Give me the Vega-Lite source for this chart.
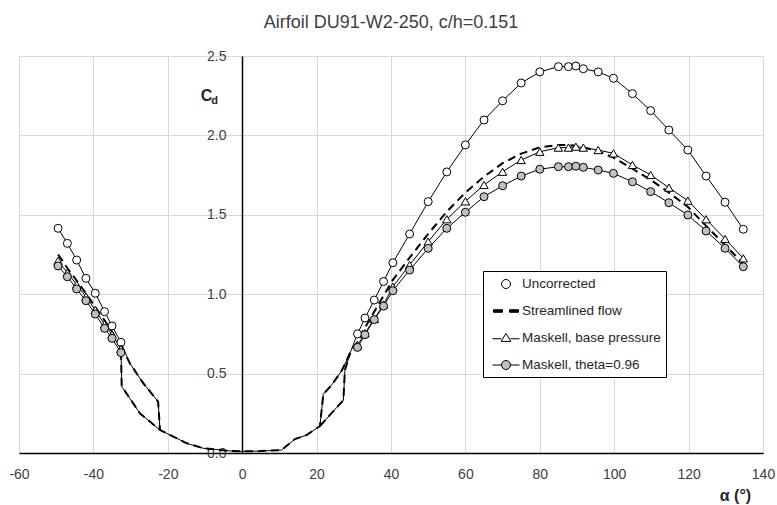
{
  "$schema": "https://vega.github.io/schema/vega-lite/v6.json",
  "width": 744,
  "height": 397,
  "autosize": {"type": "none"},
  "padding": {"left": 19, "top": 56, "right": 14, "bottom": 52},
  "title": {"text": "Airfoil DU91-W2-250, c/h=0.151", "fontSize": 18, "fontWeight": "normal", "font": "Liberation Sans", "color": "#404040", "offset": 17, "anchor": "middle"},
  "config": {
    "view": {"stroke": null},
    "axis": {"labelFont": "Liberation Sans", "titleFont": "Liberation Sans", "labelColor": "#404040", "titleColor": "#262626", "gridColor": "#d9d9d9", "gridWidth": 1}
  },
  "data": {"values": [
    {"s":"U","b":"A","m":1,"a":-49.5,"c":1.415},{"s":"U","b":"A","m":1,"a":-47,"c":1.32},{"s":"U","b":"A","m":1,"a":-44.5,"c":1.215},{"s":"U","b":"A","m":1,"a":-42,"c":1.10},{"s":"U","b":"A","m":1,"a":-39.5,"c":1.006},{"s":"U","b":"A","m":1,"a":-37,"c":0.89},{"s":"U","b":"A","m":1,"a":-35,"c":0.80},{"s":"U","b":"A","m":1,"a":-32.6,"c":0.697},
    {"s":"U","b":"A","m":0,"a":-32.4,"c":0.42},{"s":"U","b":"A","m":0,"a":-27.5,"c":0.25},{"s":"U","b":"A","m":0,"a":-22.1,"c":0.145},{"s":"U","b":"A","m":0,"a":-18.5,"c":0.103},{"s":"U","b":"A","m":0,"a":-14.9,"c":0.061},{"s":"U","b":"A","m":0,"a":-10.5,"c":0.03},{"s":"U","b":"A","m":0,"a":-3.3,"c":0.013},{"s":"U","b":"A","m":0,"a":0,"c":0.01},{"s":"U","b":"A","m":0,"a":5,"c":0.012},{"s":"U","b":"A","m":0,"a":10.6,"c":0.019},{"s":"U","b":"A","m":0,"a":14.2,"c":0.088},{"s":"U","b":"A","m":0,"a":17.3,"c":0.113},{"s":"U","b":"A","m":0,"a":20.9,"c":0.17},{"s":"U","b":"A","m":0,"a":21.8,"c":0.37},{"s":"U","b":"A","m":0,"a":24.1,"c":0.43},{"s":"U","b":"A","m":0,"a":26.8,"c":0.52},{"s":"U","b":"A","m":0,"a":29,"c":0.63},
    {"s":"U","b":"A","m":1,"a":31,"c":0.75},{"s":"U","b":"A","m":1,"a":33,"c":0.85},{"s":"U","b":"A","m":1,"a":35.5,"c":0.963},{"s":"U","b":"A","m":1,"a":38,"c":1.08},{"s":"U","b":"A","m":1,"a":40.5,"c":1.198},{"s":"U","b":"A","m":1,"a":45,"c":1.379},{"s":"U","b":"A","m":1,"a":50,"c":1.583},{"s":"U","b":"A","m":1,"a":55,"c":1.77},{"s":"U","b":"A","m":1,"a":60,"c":1.94},{"s":"U","b":"A","m":1,"a":65,"c":2.097},{"s":"U","b":"A","m":1,"a":70,"c":2.218},{"s":"U","b":"A","m":1,"a":75,"c":2.33},{"s":"U","b":"A","m":1,"a":80,"c":2.40},{"s":"U","b":"A","m":1,"a":85,"c":2.433},{"s":"U","b":"A","m":1,"a":87.7,"c":2.433},{"s":"U","b":"A","m":1,"a":89.7,"c":2.437},{"s":"U","b":"A","m":1,"a":91.7,"c":2.42},{"s":"U","b":"A","m":1,"a":95.7,"c":2.40},{"s":"U","b":"A","m":1,"a":99.8,"c":2.36},{"s":"U","b":"A","m":1,"a":104.9,"c":2.263},{"s":"U","b":"A","m":1,"a":109.8,"c":2.156},{"s":"U","b":"A","m":1,"a":114.7,"c":2.034},{"s":"U","b":"A","m":1,"a":119.8,"c":1.908},{"s":"U","b":"A","m":1,"a":124.7,"c":1.744},{"s":"U","b":"A","m":1,"a":129.8,"c":1.579},{"s":"U","b":"A","m":1,"a":134.7,"c":1.409},
    {"s":"U","b":"L","m":0,"a":-32.6,"c":0.697},{"s":"U","b":"L","m":0,"a":-30.2,"c":0.565},{"s":"U","b":"L","m":0,"a":-26.6,"c":0.44},{"s":"U","b":"L","m":0,"a":-22.6,"c":0.323},{"s":"U","b":"L","m":0,"a":-22.1,"c":0.145},
    {"s":"U","b":"R","m":0,"a":20.9,"c":0.17},{"s":"U","b":"R","m":0,"a":27.2,"c":0.333},{"s":"U","b":"R","m":0,"a":27.6,"c":0.52},{"s":"U","b":"R","m":0,"a":29,"c":0.63},

    {"s":"S","b":"A","m":0,"a":-49.5,"c":1.25},{"s":"S","b":"A","m":0,"a":-47,"c":1.165},{"s":"S","b":"A","m":0,"a":-44.5,"c":1.085},{"s":"S","b":"A","m":0,"a":-42,"c":1.005},{"s":"S","b":"A","m":0,"a":-39.5,"c":0.92},{"s":"S","b":"A","m":0,"a":-37,"c":0.835},{"s":"S","b":"A","m":0,"a":-35,"c":0.765},{"s":"S","b":"A","m":0,"a":-32.6,"c":0.675},
    {"s":"S","b":"A","m":0,"a":-32.4,"c":0.42},{"s":"S","b":"A","m":0,"a":-27.5,"c":0.25},{"s":"S","b":"A","m":0,"a":-22.1,"c":0.145},{"s":"S","b":"A","m":0,"a":-18.5,"c":0.103},{"s":"S","b":"A","m":0,"a":-14.9,"c":0.061},{"s":"S","b":"A","m":0,"a":-10.5,"c":0.03},{"s":"S","b":"A","m":0,"a":-3.3,"c":0.013},{"s":"S","b":"A","m":0,"a":0,"c":0.01},{"s":"S","b":"A","m":0,"a":5,"c":0.012},{"s":"S","b":"A","m":0,"a":10.6,"c":0.019},{"s":"S","b":"A","m":0,"a":14.2,"c":0.088},{"s":"S","b":"A","m":0,"a":17.3,"c":0.113},{"s":"S","b":"A","m":0,"a":20.9,"c":0.17},{"s":"S","b":"A","m":0,"a":21.8,"c":0.37},{"s":"S","b":"A","m":0,"a":24.1,"c":0.43},{"s":"S","b":"A","m":0,"a":26.8,"c":0.52},{"s":"S","b":"A","m":0,"a":29,"c":0.63},
    {"s":"S","b":"A","m":0,"a":31,"c":0.70},{"s":"S","b":"A","m":0,"a":33,"c":0.79},{"s":"S","b":"A","m":0,"a":35.5,"c":0.89},{"s":"S","b":"A","m":0,"a":38,"c":0.99},{"s":"S","b":"A","m":0,"a":40.5,"c":1.09},{"s":"S","b":"A","m":0,"a":45,"c":1.23},{"s":"S","b":"A","m":0,"a":50,"c":1.38},{"s":"S","b":"A","m":0,"a":55,"c":1.52},{"s":"S","b":"A","m":0,"a":60,"c":1.64},{"s":"S","b":"A","m":0,"a":65,"c":1.74},{"s":"S","b":"A","m":0,"a":70,"c":1.825},{"s":"S","b":"A","m":0,"a":75,"c":1.885},{"s":"S","b":"A","m":0,"a":80,"c":1.925},{"s":"S","b":"A","m":0,"a":85,"c":1.94},{"s":"S","b":"A","m":0,"a":87.7,"c":1.94},{"s":"S","b":"A","m":0,"a":89.7,"c":1.935},{"s":"S","b":"A","m":0,"a":91.7,"c":1.925},{"s":"S","b":"A","m":0,"a":95.7,"c":1.90},{"s":"S","b":"A","m":0,"a":99.8,"c":1.86},{"s":"S","b":"A","m":0,"a":104.9,"c":1.79},{"s":"S","b":"A","m":0,"a":109.8,"c":1.72},{"s":"S","b":"A","m":0,"a":114.7,"c":1.64},{"s":"S","b":"A","m":0,"a":119.8,"c":1.55},{"s":"S","b":"A","m":0,"a":124.7,"c":1.43},{"s":"S","b":"A","m":0,"a":129.8,"c":1.31},{"s":"S","b":"A","m":0,"a":134.7,"c":1.19},
    {"s":"S","b":"L","m":0,"a":-32.6,"c":0.675},{"s":"S","b":"L","m":0,"a":-30.2,"c":0.565},{"s":"S","b":"L","m":0,"a":-26.6,"c":0.44},{"s":"S","b":"L","m":0,"a":-22.6,"c":0.323},{"s":"S","b":"L","m":0,"a":-22.1,"c":0.145},
    {"s":"S","b":"R","m":0,"a":20.9,"c":0.17},{"s":"S","b":"R","m":0,"a":27.2,"c":0.333},{"s":"S","b":"R","m":0,"a":27.6,"c":0.52},{"s":"S","b":"R","m":0,"a":29,"c":0.63},

    {"s":"B","b":"P","m":1,"a":-49.5,"c":1.21},{"s":"B","b":"P","m":1,"a":-47,"c":1.135},{"s":"B","b":"P","m":1,"a":-44.5,"c":1.06},{"s":"B","b":"P","m":1,"a":-42,"c":0.985},{"s":"B","b":"P","m":1,"a":-39.5,"c":0.90},{"s":"B","b":"P","m":1,"a":-37,"c":0.81},{"s":"B","b":"P","m":1,"a":-35,"c":0.745},{"s":"B","b":"P","m":1,"a":-32.6,"c":0.655},
    {"s":"B","b":"Q","m":1,"a":31,"c":0.68},{"s":"B","b":"Q","m":1,"a":33,"c":0.754},{"s":"B","b":"Q","m":1,"a":35.5,"c":0.844},{"s":"B","b":"Q","m":1,"a":38,"c":0.935},{"s":"B","b":"Q","m":1,"a":40.5,"c":1.047},{"s":"B","b":"Q","m":1,"a":45,"c":1.184},{"s":"B","b":"Q","m":1,"a":50,"c":1.331},{"s":"B","b":"Q","m":1,"a":55,"c":1.472},{"s":"B","b":"Q","m":1,"a":60,"c":1.585},{"s":"B","b":"Q","m":1,"a":65,"c":1.688},{"s":"B","b":"Q","m":1,"a":70,"c":1.771},{"s":"B","b":"Q","m":1,"a":75,"c":1.845},{"s":"B","b":"Q","m":1,"a":80,"c":1.897},{"s":"B","b":"Q","m":1,"a":85,"c":1.923},{"s":"B","b":"Q","m":1,"a":87.7,"c":1.923},{"s":"B","b":"Q","m":1,"a":89.7,"c":1.929},{"s":"B","b":"Q","m":1,"a":91.7,"c":1.923},{"s":"B","b":"Q","m":1,"a":95.7,"c":1.908},{"s":"B","b":"Q","m":1,"a":99.8,"c":1.887},{"s":"B","b":"Q","m":1,"a":104.9,"c":1.814},{"s":"B","b":"Q","m":1,"a":109.8,"c":1.751},{"s":"B","b":"Q","m":1,"a":114.7,"c":1.671},{"s":"B","b":"Q","m":1,"a":119.8,"c":1.589},{"s":"B","b":"Q","m":1,"a":124.7,"c":1.472},{"s":"B","b":"Q","m":1,"a":129.8,"c":1.348},{"s":"B","b":"Q","m":1,"a":134.7,"c":1.226},

    {"s":"T","b":"P","m":1,"a":-49.5,"c":1.178},{"s":"T","b":"P","m":1,"a":-47,"c":1.11},{"s":"T","b":"P","m":1,"a":-44.5,"c":1.033},{"s":"T","b":"P","m":1,"a":-42,"c":0.959},{"s":"T","b":"P","m":1,"a":-39.5,"c":0.875},{"s":"T","b":"P","m":1,"a":-37,"c":0.785},{"s":"T","b":"P","m":1,"a":-35,"c":0.722},{"s":"T","b":"P","m":1,"a":-32.6,"c":0.632},
    {"s":"T","b":"Q","m":1,"a":31,"c":0.665},{"s":"T","b":"Q","m":1,"a":33,"c":0.745},{"s":"T","b":"Q","m":1,"a":35.5,"c":0.84},{"s":"T","b":"Q","m":1,"a":38,"c":0.925},{"s":"T","b":"Q","m":1,"a":40.5,"c":1.022},{"s":"T","b":"Q","m":1,"a":45,"c":1.152},{"s":"T","b":"Q","m":1,"a":50,"c":1.289},{"s":"T","b":"Q","m":1,"a":55,"c":1.415},{"s":"T","b":"Q","m":1,"a":60,"c":1.516},{"s":"T","b":"Q","m":1,"a":65,"c":1.614},{"s":"T","b":"Q","m":1,"a":70,"c":1.683},{"s":"T","b":"Q","m":1,"a":75,"c":1.744},{"s":"T","b":"Q","m":1,"a":80,"c":1.787},{"s":"T","b":"Q","m":1,"a":85,"c":1.803},{"s":"T","b":"Q","m":1,"a":87.7,"c":1.803},{"s":"T","b":"Q","m":1,"a":89.7,"c":1.806},{"s":"T","b":"Q","m":1,"a":91.7,"c":1.799},{"s":"T","b":"Q","m":1,"a":95.7,"c":1.782},{"s":"T","b":"Q","m":1,"a":99.8,"c":1.761},{"s":"T","b":"Q","m":1,"a":104.9,"c":1.708},{"s":"T","b":"Q","m":1,"a":109.8,"c":1.646},{"s":"T","b":"Q","m":1,"a":114.7,"c":1.576},{"s":"T","b":"Q","m":1,"a":119.8,"c":1.499},{"s":"T","b":"Q","m":1,"a":124.7,"c":1.398},{"s":"T","b":"Q","m":1,"a":129.8,"c":1.289},{"s":"T","b":"Q","m":1,"a":134.7,"c":1.173}
  ]},
  "resolve": {"axis": {"y": "independent"}},
  "layer": [
    {
      "transform": [{"filter": "datum.s != 'S'"}],
      "mark": {"type": "line", "color": "black", "strokeWidth": 1},
      "encoding": {
        "x": {"field": "a", "type": "quantitative", "scale": {"domain": [-60, 140], "nice": false},
          "axis": {"values": [-60, -40, -20, 0, 20, 40, 60, 80, 100, 120, 140], "labelFlush": false, "labelExpr": "replace(datum.label, '−', '-')", "grid": true, "ticks": false, "tickSize": 0, "domainColor": "black", "domainWidth": 1.5, "labelFontSize": 14, "labelPadding": 14,
            "title": "α (°)", "titleFontSize": 16, "titleFontWeight": "bold", "titleX": 716, "titleY": 42, "titleAlign": "center", "titleBaseline": "middle"}},
        "y": {"field": "c", "type": "quantitative", "scale": {"domain": [0, 2.5], "nice": false},
          "axis": {"orient": "left", "offset": -223, "values": [0, 0.5, 1, 1.5, 2, 2.5], "format": ".1f", "labelFlush": false, "grid": true, "ticks": false, "tickSize": 0, "domainColor": "black", "domainWidth": 1.5, "labelFontSize": 14, "labelPadding": 16,
            "title": "C", "titleFontSize": 16, "titleFontWeight": "bold", "titleAngle": 0, "titleX": -36, "titleY": 39, "titleAlign": "center", "titleBaseline": "middle"}},
        "detail": [{"field": "s"}, {"field": "b"}]
      }
    },
    {
      "transform": [{"filter": "datum.s == 'S'"}],
      "mark": {"type": "line", "color": "black", "strokeWidth": 2, "strokeDash": [8, 5]},
      "encoding": {
        "x": {"field": "a", "type": "quantitative"},
        "y": {"field": "c", "type": "quantitative", "axis": null},
        "detail": {"field": "b"}
      }
    },
    {
      "transform": [{"filter": "datum.s == 'U' && datum.m == 1"}],
      "mark": {"type": "point", "shape": "circle", "filled": true, "fill": "white", "stroke": "black", "strokeWidth": 1, "size": 64, "opacity": 1},
      "encoding": {
        "x": {"field": "a", "type": "quantitative"},
        "y": {"field": "c", "type": "quantitative", "axis": null}
      }
    },
    {
      "transform": [{"filter": "datum.s == 'B'"}],
      "mark": {"type": "point", "shape": "triangle-up", "filled": true, "fill": "white", "stroke": "black", "strokeWidth": 1, "size": 70, "opacity": 1},
      "encoding": {
        "x": {"field": "a", "type": "quantitative"},
        "y": {"field": "c", "type": "quantitative", "axis": null}
      }
    },
    {
      "transform": [{"filter": "datum.s == 'T'"}],
      "mark": {"type": "point", "shape": "circle", "filled": true, "fill": "#c0c0c0", "stroke": "black", "strokeWidth": 1, "size": 64, "opacity": 1},
      "encoding": {
        "x": {"field": "a", "type": "quantitative"},
        "y": {"field": "c", "type": "quantitative", "axis": null}
      }
    },
    {
      "transform": [{"filter": "datum.c > 99"}],
      "mark": {"type": "point", "filled": true, "stroke": "black", "strokeWidth": 1, "size": 225, "opacity": 1},
      "encoding": {
        "x": {"field": "a", "type": "quantitative"},
        "y": {"field": "c", "type": "quantitative",
          "axis": {"orient": "left", "offset": -223, "labels": false, "ticks": false, "domain": false, "grid": false,
            "title": "d", "titleFontSize": 11, "titleFontWeight": "bold", "titleAngle": 0, "titleX": -28, "titleY": 44, "titleAlign": "center", "titleBaseline": "middle"}},
        "shape": {"field": "s", "type": "nominal",
          "scale": {"domain": ["U", "S", "B", "T"], "range": [
            "M0.6,0A0.6,0.6,0,1,1,-0.6,0A0.6,0.6,0,1,1,0.6,0Z",
            "M-1.67,-0.17H-0.47V0.17H-1.67ZM0.47,-0.17H1.67V0.17H0.47Z",
            "M-1.8,0.1H-0.62M0.62,0.1H1.8M0,-0.6L0.65,0.45L-0.65,0.45Z",
            "M-1.8,0H-0.6M0.6,0H1.8M0.6,0A0.6,0.6,0,1,1,-0.6,0A0.6,0.6,0,1,1,0.6,0Z"]},
          "legend": {"title": null, "orient": "none", "legendX": 464, "legendY": 215, "strokeColor": "black", "fillColor": "white", "padding": 5, "rowPadding": 12, "symbolSize": 225, "symbolStrokeWidth": 1, "symbolOffset": 10, "labelOffset": 8, "labelFont": "Liberation Sans", "labelFontSize": 13.5, "labelColor": "#262626", "labelLimit": 300,
            "labelExpr": "{'U': 'Uncorrected', 'S': 'Streamlined flow', 'B': 'Maskell, base pressure', 'T': 'Maskell, theta=0.96'}[datum.value]"}},
        "fill": {"field": "s", "type": "nominal",
          "scale": {"domain": ["U", "S", "B", "T"], "range": ["white", "black", "white", "#c0c0c0"]},
          "legend": {"title": null, "orient": "none", "legendX": 464, "legendY": 215, "strokeColor": "black", "fillColor": "white", "padding": 5, "rowPadding": 12, "symbolSize": 225, "symbolStrokeWidth": 1, "symbolOffset": 10, "labelOffset": 8, "labelFont": "Liberation Sans", "labelFontSize": 13.5, "labelColor": "#262626", "labelLimit": 300,
            "labelExpr": "{'U': 'Uncorrected', 'S': 'Streamlined flow', 'B': 'Maskell, base pressure', 'T': 'Maskell, theta=0.96'}[datum.value]"}}
      }
    }
  ]
}
